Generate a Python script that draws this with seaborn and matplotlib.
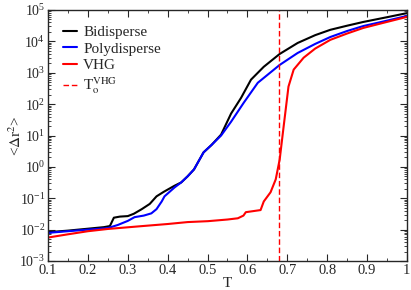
import numpy as np
import pandas as pd
import matplotlib
matplotlib.use("Agg")
import matplotlib.pyplot as plt
from matplotlib.ticker import MultipleLocator, LogLocator, NullFormatter
import seaborn as sns

# values (T, <dr^2>)
t_bi = [0.10, 0.15, 0.20, 0.24, 0.255, 0.265, 0.28, 0.30, 0.315, 0.335, 0.355, 0.372,
        0.39, 0.417, 0.434, 0.45, 0.466, 0.49, 0.51, 0.534, 0.559, 0.584, 0.609, 0.641,
        0.681, 0.726, 0.77, 0.808, 0.85, 0.891, 0.95, 1.0]
msd_bi = [8.3e-3, 9.3e-3, 1.07e-2, 1.2e-2, 1.3e-2, 2.4e-2, 2.6e-2, 2.7e-2, 3.2e-2, 4.5e-2,
          6.6e-2, 1.15e-1, 1.6e-1, 2.5e-1, 3.2e-1, 5.0e-1, 8.3e-1, 2.9, 5.0, 10.7, 50.0,
          158.0, 603.0, 1550.0, 3980.0, 8900.0, 15800.0, 23400.0, 31600.0, 41700.0,
          58900.0, 79400.0]

t_poly = [0.10, 0.15, 0.20, 0.25, 0.275, 0.30, 0.317, 0.34, 0.359, 0.372, 0.385, 0.392,
          0.417, 0.434, 0.45, 0.466, 0.49, 0.51, 0.534, 0.559, 0.591, 0.626, 0.681, 0.726,
          0.77, 0.808, 0.85, 0.891, 0.95, 1.0]
msd_poly = [7.9e-3, 8.9e-3, 1.0e-2, 1.12e-2, 1.41e-2, 1.9e-2, 2.5e-2, 2.8e-2, 3.3e-2,
            4.5e-2, 7.9e-2, 1.15e-1, 2.2e-1, 3.2e-1, 5.0e-1, 8.3e-1, 2.9, 5.0, 10.0, 27.5,
            112.0, 479.0, 1780.0, 4270.0, 8300.0, 13800.0, 21400.0, 30900.0, 45700.0, 64600.0]

t_vhg = [0.10, 0.15, 0.20, 0.25, 0.334, 0.40, 0.45, 0.501, 0.55, 0.576, 0.59, 0.596,
         0.633, 0.641, 0.658, 0.671, 0.681, 0.69, 0.703, 0.716, 0.741, 0.77, 0.808, 0.85,
         0.891, 0.95, 1.0]
msd_vhg = [5.6e-3, 7.1e-3, 8.9e-3, 1.05e-2, 1.29e-2, 1.51e-2, 1.74e-2, 1.86e-2, 2.1e-2,
           2.3e-2, 2.8e-2, 3.6e-2, 4.2e-2, 7.9e-2, 1.55e-1, 4.0e-1, 1.74, 15.8, 363.0,
           1260.0, 3020.0, 5900.0, 11200.0, 17800.0, 26900.0, 41700.0, 60300.0]

t_vhg0 = 0.68

sns.set_style("ticks")
plt.rcParams["font.family"] = ["Liberation Serif", "DejaVu Serif"]
plt.rcParams["mathtext.fontset"] = "stix"

fig = plt.figure(figsize=(4.11, 2.90), dpi=100)
ax = fig.add_axes([0.117, 0.1, 0.873, 0.8655])

sns.lineplot(x=t_bi, y=msd_bi, color="black", lw=1.5, label="Bidisperse", ax=ax)
sns.lineplot(x=t_poly, y=msd_poly, color="#0000ff", lw=1.5, label="Polydisperse", ax=ax)
sns.lineplot(x=t_vhg, y=msd_vhg, color="#ff0000", lw=1.5, label="VHG", ax=ax)
ax.axvline(t_vhg0, color="#ff0000", lw=1.0, ls=(0, (4, 2)),
           label=r"T$_\mathrm{o}^\mathrm{VHG}$")

ax.set_yscale("log")
ax.set_xlim(0.1, 1.0)
ax.set_ylim(1e-3, 1e5)
ax.xaxis.set_minor_locator(MultipleLocator(0.05))
ax.set_xticks(np.arange(0.1, 1.01, 0.1))
ax.set_xticklabels(["0.1", "0.2", "0.3", "0.4", "0.5", "0.6", "0.7", "0.8", "0.9", "1"])
ax.yaxis.set_major_locator(LogLocator(base=10, numticks=20))
ax.yaxis.set_minor_locator(LogLocator(base=10, subs=np.arange(2, 10), numticks=20))
ax.yaxis.set_minor_formatter(NullFormatter())
ax.tick_params(which="both", direction="in", top=True, right=True, labelsize=10.5)
ax.tick_params(axis="y", labelsize=10)
ax.tick_params(which="major", length=5, width=0.8, pad=2)
ax.tick_params(which="minor", length=2.5, width=0.6)
for s in ax.spines.values():
    s.set_linewidth(1.0)

ax.set_xlabel("T", fontsize=11)
ax.set_ylabel(r"<$\Delta$r$^2$>", fontsize=11)
ax.xaxis.set_label_coords(0.5, -0.064)
ax.yaxis.set_label_coords(-0.068, 0.5)

ax.legend(loc="upper left", frameon=False, fontsize=11, handlelength=0.9,
          handletextpad=0.4, labelspacing=0.2, borderaxespad=0.6)

fig.savefig("out.png", dpi=100)
